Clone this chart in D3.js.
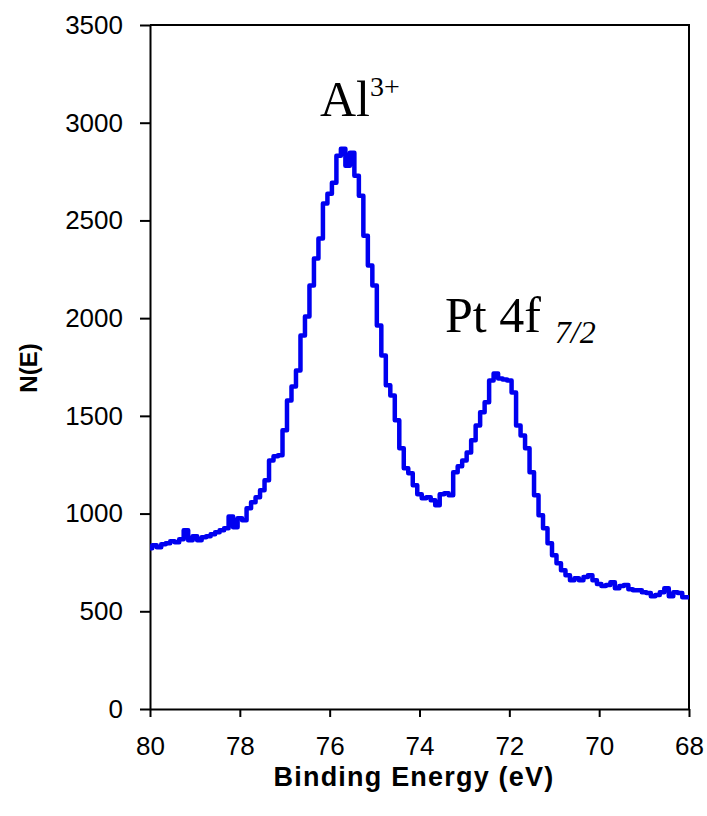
<!DOCTYPE html>
<html>
<head>
<meta charset="utf-8">
<title>XPS spectrum</title>
<script src="https://cdn.jsdelivr.net/npm/d3@7"></script>
<style>
  body { margin: 0; background: #fff; }
  .axis text { font-family: "Liberation Sans", Arial, sans-serif; font-size: 26px; fill: #000; }
  .axis path, .axis line { stroke: #000; stroke-width: 2px; }
</style>
</head>
<body>
<script>
var width = 707, height = 816;
var margin = {left: 150, right: 18, top: 25, bottom: 107};

// binding energy (eV), 80 -> 68 in 0.1 eV steps
var energy = d3.range(800, 679, -1).map(function(d){ return d / 10; });
// counts N(E)
var counts = [
  823, 838, 828, 843, 848, 858, 853, 869, 915, 864,
  884, 864, 879, 884, 894, 904, 915, 925, 985, 930,
  976, 966, 1027, 1058, 1083, 1119, 1170, 1272, 1293, 1298,
  1426, 1579, 1650, 1732, 1911, 2008, 2167, 2305, 2407, 2586,
  2637, 2693, 2831, 2867, 2780, 2846, 2729, 2626, 2422, 2269,
  2167, 1962, 1809, 1656, 1604, 1477, 1334, 1232, 1206, 1145,
  1099, 1078, 1083, 1068, 1042, 1099, 1104, 1094, 1211, 1242,
  1272, 1313, 1375, 1451, 1518, 1569, 1681, 1717, 1691, 1686,
  1681, 1620, 1451, 1400, 1334, 1211, 1094, 991, 925, 848,
  787, 746, 710, 685, 659, 669, 659, 675, 685, 659,
  639, 629, 634, 649, 618, 629, 634, 613, 608, 608,
  598, 593, 577, 583, 598, 618, 577, 598, 593, 572,
  572
];
var xTicks = [80, 78, 76, 74, 72, 70, 68];
var yTicks = [0, 500, 1000, 1500, 2000, 2500, 3000, 3500];

var svg = d3.select("body").append("svg")
    .attr("width", width)
    .attr("height", height);

var x = d3.scaleLinear().domain([80, 68]).range([margin.left, width - margin.right]);
var y = d3.scaleLinear().domain([0, 3500]).range([height - margin.bottom, margin.top]);

// frame top / right
svg.append("path")
    .attr("d", "M" + x(80) + "," + y(3500) + "H" + x(68) + "V" + y(0))
    .attr("fill", "none")
    .attr("stroke", "#000")
    .attr("stroke-width", 2);

svg.append("g")
    .attr("class", "axis")
    .attr("transform", "translate(" + margin.left + ",0)")
    .call(d3.axisLeft(y).tickValues(yTicks).tickFormat(d3.format("d"))
        .tickSize(10).tickPadding(17).tickSizeOuter(0));

svg.append("g")
    .attr("class", "axis")
    .attr("transform", "translate(0," + y(0) + ")")
    .call(d3.axisBottom(x).tickValues(xTicks).tickFormat(d3.format("d"))
        .tickSize(8).tickPadding(20).tickSizeOuter(0));

var line = d3.line()
    .x(function(d, i){ return x(energy[i]); })
    .y(function(d){ return y(d); })
    .curve(d3.curveStep);

svg.append("path")
    .attr("d", line(counts))
    .attr("fill", "none")
    .attr("stroke", "#0000f0")
    .attr("stroke-width", 4.5)
    .attr("stroke-linejoin", "round");

// axis titles
svg.append("text")
    .attr("x", 414).attr("y", 786)
    .attr("text-anchor", "middle")
    .style("font-family", "Liberation Sans, Arial, sans-serif")
    .style("font-weight", "bold")
    .style("font-size", "27px")
    .style("letter-spacing", "1.2px")
    .text("Binding Energy (eV)");

svg.append("text")
    .attr("transform", "translate(37,368) rotate(-90)")
    .attr("text-anchor", "middle")
    .style("font-family", "Liberation Sans, Arial, sans-serif")
    .style("font-weight", "bold")
    .style("font-size", "24px")
    .text("N(E)");

// peak labels
var al = svg.append("text")
    .attr("x", 320).attr("y", 116)
    .style("font-family", "Liberation Serif, Times New Roman, serif")
    .style("font-size", "50px");
al.append("tspan").text("Al");
al.append("tspan").attr("dy", -20).style("font-size", "28px").text("3+");

var pt = svg.append("text")
    .attr("x", 445).attr("y", 332)
    .style("font-family", "Liberation Serif, Times New Roman, serif")
    .style("font-size", "50px");
pt.append("tspan").text("Pt 4f");
pt.append("tspan").attr("dx", 14).attr("dy", 11)
    .style("font-size", "32px").style("font-style", "italic").text("7/2");
</script>
</body>
</html>
